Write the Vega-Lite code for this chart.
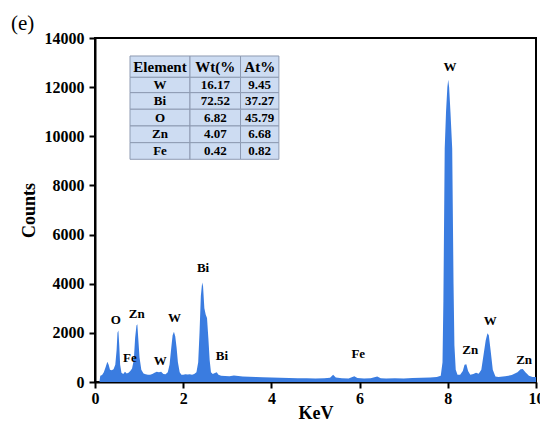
{
  "$schema": "https://vega.github.io/schema/vega-lite/v6.json",
  "width": 441,
  "height": 344,
  "autosize": {"type": "none"},
  "padding": {"left": 95, "top": 38, "right": 4, "bottom": 41},
  "background": "white",
  "config": {
    "view": {"stroke": "black", "strokeWidth": 2},
    "font": "'Liberation Serif', 'Times New Roman', serif"
  },
  "title": {
    "text": "(e)",
    "anchor": "start",
    "frame": "group",
    "dx": -84,
    "dy": 12,
    "offset": 8,
    "fontSize": 21,
    "fontWeight": "normal",
    "font": "'Liberation Serif', 'Times New Roman', serif",
    "color": "black"
  },
  "datasets": {
    "spectrum": [
      {"keV": 0.10, "counts": 0},
      {"keV": 0.12, "counts": 250},
      {"keV": 0.16, "counts": 280},
      {"keV": 0.20, "counts": 400},
      {"keV": 0.24, "counts": 600},
      {"keV": 0.28, "counts": 820},
      {"keV": 0.31, "counts": 700},
      {"keV": 0.34, "counts": 500},
      {"keV": 0.38, "counts": 480},
      {"keV": 0.42, "counts": 520},
      {"keV": 0.46, "counts": 700},
      {"keV": 0.49, "counts": 1300},
      {"keV": 0.51, "counts": 2000},
      {"keV": 0.53, "counts": 2100},
      {"keV": 0.55, "counts": 1500},
      {"keV": 0.57, "counts": 700},
      {"keV": 0.60, "counts": 380},
      {"keV": 0.64, "counts": 330},
      {"keV": 0.68, "counts": 420},
      {"keV": 0.72, "counts": 350},
      {"keV": 0.76, "counts": 380},
      {"keV": 0.80, "counts": 450},
      {"keV": 0.84, "counts": 550},
      {"keV": 0.88, "counts": 900},
      {"keV": 0.91, "counts": 1800},
      {"keV": 0.94, "counts": 2300},
      {"keV": 0.96, "counts": 2350},
      {"keV": 0.98, "counts": 1800},
      {"keV": 1.01, "counts": 1000},
      {"keV": 1.05, "counts": 500},
      {"keV": 1.10, "counts": 350},
      {"keV": 1.15, "counts": 320},
      {"keV": 1.20, "counts": 300},
      {"keV": 1.25, "counts": 300},
      {"keV": 1.30, "counts": 330},
      {"keV": 1.35, "counts": 380},
      {"keV": 1.40, "counts": 420},
      {"keV": 1.45, "counts": 400},
      {"keV": 1.50, "counts": 420},
      {"keV": 1.55, "counts": 330},
      {"keV": 1.60, "counts": 320},
      {"keV": 1.65, "counts": 400},
      {"keV": 1.69, "counts": 700},
      {"keV": 1.73, "counts": 1400},
      {"keV": 1.76, "counts": 1900},
      {"keV": 1.79, "counts": 2050},
      {"keV": 1.82, "counts": 1850},
      {"keV": 1.85, "counts": 1400},
      {"keV": 1.88, "counts": 800},
      {"keV": 1.92, "counts": 400},
      {"keV": 1.96, "counts": 300},
      {"keV": 2.00, "counts": 300},
      {"keV": 2.05, "counts": 320},
      {"keV": 2.10, "counts": 310},
      {"keV": 2.15, "counts": 320},
      {"keV": 2.20, "counts": 300},
      {"keV": 2.25, "counts": 330},
      {"keV": 2.30, "counts": 400},
      {"keV": 2.34, "counts": 800},
      {"keV": 2.37, "counts": 2000},
      {"keV": 2.40, "counts": 3500},
      {"keV": 2.43, "counts": 4050},
      {"keV": 2.45, "counts": 3900},
      {"keV": 2.48, "counts": 3000},
      {"keV": 2.51, "counts": 2750},
      {"keV": 2.54, "counts": 2600},
      {"keV": 2.57, "counts": 1800},
      {"keV": 2.60, "counts": 900},
      {"keV": 2.63, "counts": 400},
      {"keV": 2.67, "counts": 330},
      {"keV": 2.72, "counts": 370},
      {"keV": 2.76, "counts": 400},
      {"keV": 2.80, "counts": 300},
      {"keV": 2.86, "counts": 250},
      {"keV": 2.95, "counts": 240},
      {"keV": 3.05, "counts": 230},
      {"keV": 3.15, "counts": 260},
      {"keV": 3.25, "counts": 240},
      {"keV": 3.35, "counts": 220},
      {"keV": 3.50, "counts": 210},
      {"keV": 3.65, "counts": 200},
      {"keV": 3.80, "counts": 190},
      {"keV": 4.00, "counts": 180},
      {"keV": 4.20, "counts": 170},
      {"keV": 4.40, "counts": 160},
      {"keV": 4.60, "counts": 150},
      {"keV": 4.80, "counts": 150},
      {"keV": 5.00, "counts": 145},
      {"keV": 5.20, "counts": 150},
      {"keV": 5.33, "counts": 170},
      {"keV": 5.40, "counts": 300},
      {"keV": 5.46, "counts": 180},
      {"keV": 5.60, "counts": 150},
      {"keV": 5.75, "counts": 140},
      {"keV": 5.88, "counts": 230},
      {"keV": 5.95, "counts": 160},
      {"keV": 6.10, "counts": 140},
      {"keV": 6.25, "counts": 150},
      {"keV": 6.40, "counts": 220},
      {"keV": 6.48, "counts": 150},
      {"keV": 6.60, "counts": 140},
      {"keV": 6.80, "counts": 150},
      {"keV": 7.00, "counts": 140},
      {"keV": 7.20, "counts": 160},
      {"keV": 7.40, "counts": 170},
      {"keV": 7.60, "counts": 180},
      {"keV": 7.75, "counts": 200},
      {"keV": 7.84, "counts": 250},
      {"keV": 7.88, "counts": 800},
      {"keV": 7.90, "counts": 3300},
      {"keV": 7.93, "counts": 9500},
      {"keV": 7.96, "counts": 11000},
      {"keV": 7.99, "counts": 12000},
      {"keV": 8.01, "counts": 12300},
      {"keV": 8.03, "counts": 12000},
      {"keV": 8.06, "counts": 11000},
      {"keV": 8.10, "counts": 9500},
      {"keV": 8.13, "counts": 4000},
      {"keV": 8.15, "counts": 1500},
      {"keV": 8.18, "counts": 500},
      {"keV": 8.22, "counts": 300},
      {"keV": 8.28, "counts": 300},
      {"keV": 8.34, "counts": 450},
      {"keV": 8.38, "counts": 700},
      {"keV": 8.42, "counts": 720},
      {"keV": 8.46, "counts": 450},
      {"keV": 8.51, "counts": 290},
      {"keV": 8.58, "counts": 330},
      {"keV": 8.64, "counts": 380},
      {"keV": 8.70, "counts": 340},
      {"keV": 8.76, "counts": 500},
      {"keV": 8.81, "counts": 1100},
      {"keV": 8.86, "counts": 1700},
      {"keV": 8.90, "counts": 1980},
      {"keV": 8.93, "counts": 1900},
      {"keV": 8.97, "counts": 1300},
      {"keV": 9.02, "counts": 500},
      {"keV": 9.08, "counts": 220},
      {"keV": 9.15, "counts": 200},
      {"keV": 9.30, "counts": 230},
      {"keV": 9.45, "counts": 280},
      {"keV": 9.58, "counts": 400},
      {"keV": 9.65, "counts": 520},
      {"keV": 9.70, "counts": 530},
      {"keV": 9.76, "counts": 400},
      {"keV": 9.84, "counts": 250},
      {"keV": 9.92, "counts": 200},
      {"keV": 10.0, "counts": 200}
    ],
    "labels": [
      {"keV": 0.47, "counts": 2520, "label": "O"},
      {"keV": 0.945, "counts": 2770, "label": "Zn"},
      {"keV": 0.79, "counts": 990, "label": "Fe"},
      {"keV": 1.48, "counts": 870, "label": "W"},
      {"keV": 1.80, "counts": 2620, "label": "W"},
      {"keV": 2.45, "counts": 4630, "label": "Bi"},
      {"keV": 2.88, "counts": 1060, "label": "Bi"},
      {"keV": 5.97, "counts": 1140, "label": "Fe"},
      {"keV": 8.05, "counts": 12830, "label": "W"},
      {"keV": 8.51, "counts": 1300, "label": "Zn"},
      {"keV": 8.96, "counts": 2480, "label": "W"},
      {"keV": 9.73, "counts": 895, "label": "Zn"}
    ],
    "table": [
      {"text": "Element", "header": true, "x1": 0.794, "x2": 2.154, "xm": 1.474, "y1": 13268, "y2": 12400, "ym": 12834},
      {"text": "Wt(%", "header": true, "x1": 2.154, "x2": 3.30, "xm": 2.727, "y1": 13268, "y2": 12400, "ym": 12834},
      {"text": "At%", "header": true, "x1": 3.30, "x2": 4.17, "xm": 3.735, "y1": 13268, "y2": 12400, "ym": 12834},
      {"text": "W", "header": false, "x1": 0.794, "x2": 2.154, "xm": 1.474, "y1": 12400, "y2": 11775, "ym": 12088},
      {"text": "16.17", "header": false, "x1": 2.154, "x2": 3.30, "xm": 2.727, "y1": 12400, "y2": 11775, "ym": 12088},
      {"text": "9.45", "header": false, "x1": 3.30, "x2": 4.17, "xm": 3.735, "y1": 12400, "y2": 11775, "ym": 12088},
      {"text": "Bi", "header": false, "x1": 0.794, "x2": 2.154, "xm": 1.474, "y1": 11775, "y2": 11100, "ym": 11437},
      {"text": "72.52", "header": false, "x1": 2.154, "x2": 3.30, "xm": 2.727, "y1": 11775, "y2": 11100, "ym": 11437},
      {"text": "37.27", "header": false, "x1": 3.30, "x2": 4.17, "xm": 3.735, "y1": 11775, "y2": 11100, "ym": 11437},
      {"text": "O", "header": false, "x1": 0.794, "x2": 2.154, "xm": 1.474, "y1": 11100, "y2": 10420, "ym": 10760},
      {"text": "6.82", "header": false, "x1": 2.154, "x2": 3.30, "xm": 2.727, "y1": 11100, "y2": 10420, "ym": 10760},
      {"text": "45.79", "header": false, "x1": 3.30, "x2": 4.17, "xm": 3.735, "y1": 11100, "y2": 10420, "ym": 10760},
      {"text": "Zn", "header": false, "x1": 0.794, "x2": 2.154, "xm": 1.474, "y1": 10420, "y2": 9740, "ym": 10080},
      {"text": "4.07", "header": false, "x1": 2.154, "x2": 3.30, "xm": 2.727, "y1": 10420, "y2": 9740, "ym": 10080},
      {"text": "6.68", "header": false, "x1": 3.30, "x2": 4.17, "xm": 3.735, "y1": 10420, "y2": 9740, "ym": 10080},
      {"text": "Fe", "header": false, "x1": 0.794, "x2": 2.154, "xm": 1.474, "y1": 9740, "y2": 9064, "ym": 9402},
      {"text": "0.42", "header": false, "x1": 2.154, "x2": 3.30, "xm": 2.727, "y1": 9740, "y2": 9064, "ym": 9402},
      {"text": "0.82", "header": false, "x1": 3.30, "x2": 4.17, "xm": 3.735, "y1": 9740, "y2": 9064, "ym": 9402}
    ]
  },
  "layer": [
    {
      "data": {"name": "spectrum"},
      "mark": {"type": "area", "color": "#3a7ce0", "opacity": 1, "clip": true},
      "encoding": {
        "x": {
          "field": "keV",
          "type": "quantitative",
          "scale": {"domain": [0, 10], "nice": false, "zero": false},
          "axis": {
            "title": "KeV",
            "values": [0, 2, 4, 6, 8, 10],
            "format": "d",
            "grid": false,
            "domainColor": "black",
            "domainWidth": 2,
            "tickColor": "black",
            "tickWidth": 2,
            "tickSize": 6,
            "labelFont": "'Liberation Serif', 'Times New Roman', serif",
            "labelFontSize": 16,
            "labelFontWeight": "bold",
            "labelColor": "black",
            "labelPadding": 2,
            "labelFlush": false,
            "titleFont": "'Liberation Serif', 'Times New Roman', serif",
            "titleFontSize": 18,
            "titleFontWeight": "bold",
            "titleColor": "black",
            "titlePadding": -2
          }
        },
        "y": {
          "field": "counts",
          "type": "quantitative",
          "scale": {"domain": [0, 14000], "nice": false},
          "axis": {
            "title": "Counts",
            "values": [0, 2000, 4000, 6000, 8000, 10000, 12000, 14000],
            "format": "d",
            "grid": false,
            "domainColor": "black",
            "domainWidth": 2,
            "tickColor": "black",
            "tickWidth": 2,
            "tickSize": 6,
            "labelFont": "'Liberation Serif', 'Times New Roman', serif",
            "labelFontSize": 16,
            "labelFontWeight": "bold",
            "labelColor": "black",
            "labelPadding": 5,
            "labelFlush": false,
            "titleFont": "'Liberation Serif', 'Times New Roman', serif",
            "titleFontSize": 18,
            "titleFontWeight": "bold",
            "titleColor": "black",
            "titlePadding": 6
          }
        }
      }
    },
    {
      "data": {"name": "table"},
      "mark": {"type": "rect", "fill": "#cddcf2", "stroke": "#8e9bb2", "strokeWidth": 1},
      "encoding": {
        "x": {"field": "x1", "type": "quantitative"},
        "x2": {"field": "x2"},
        "y": {"field": "y1", "type": "quantitative"},
        "y2": {"field": "y2"}
      }
    },
    {
      "data": {"name": "table"},
      "mark": {"type": "text", "font": "'Liberation Serif', 'Times New Roman', serif", "fontWeight": "bold", "baseline": "middle", "align": "center", "color": "black"},
      "encoding": {
        "x": {"field": "xm", "type": "quantitative"},
        "y": {"field": "ym", "type": "quantitative"},
        "text": {"field": "text"},
        "size": {"condition": {"test": "datum.header", "value": 15}, "value": 13}
      }
    },
    {
      "data": {"name": "labels"},
      "mark": {"type": "text", "font": "'Liberation Serif', 'Times New Roman', serif", "fontWeight": "bold", "fontSize": 13, "baseline": "middle", "align": "center", "color": "black"},
      "encoding": {
        "x": {"field": "keV", "type": "quantitative"},
        "y": {"field": "counts", "type": "quantitative"},
        "text": {"field": "label"}
      }
    }
  ]
}
